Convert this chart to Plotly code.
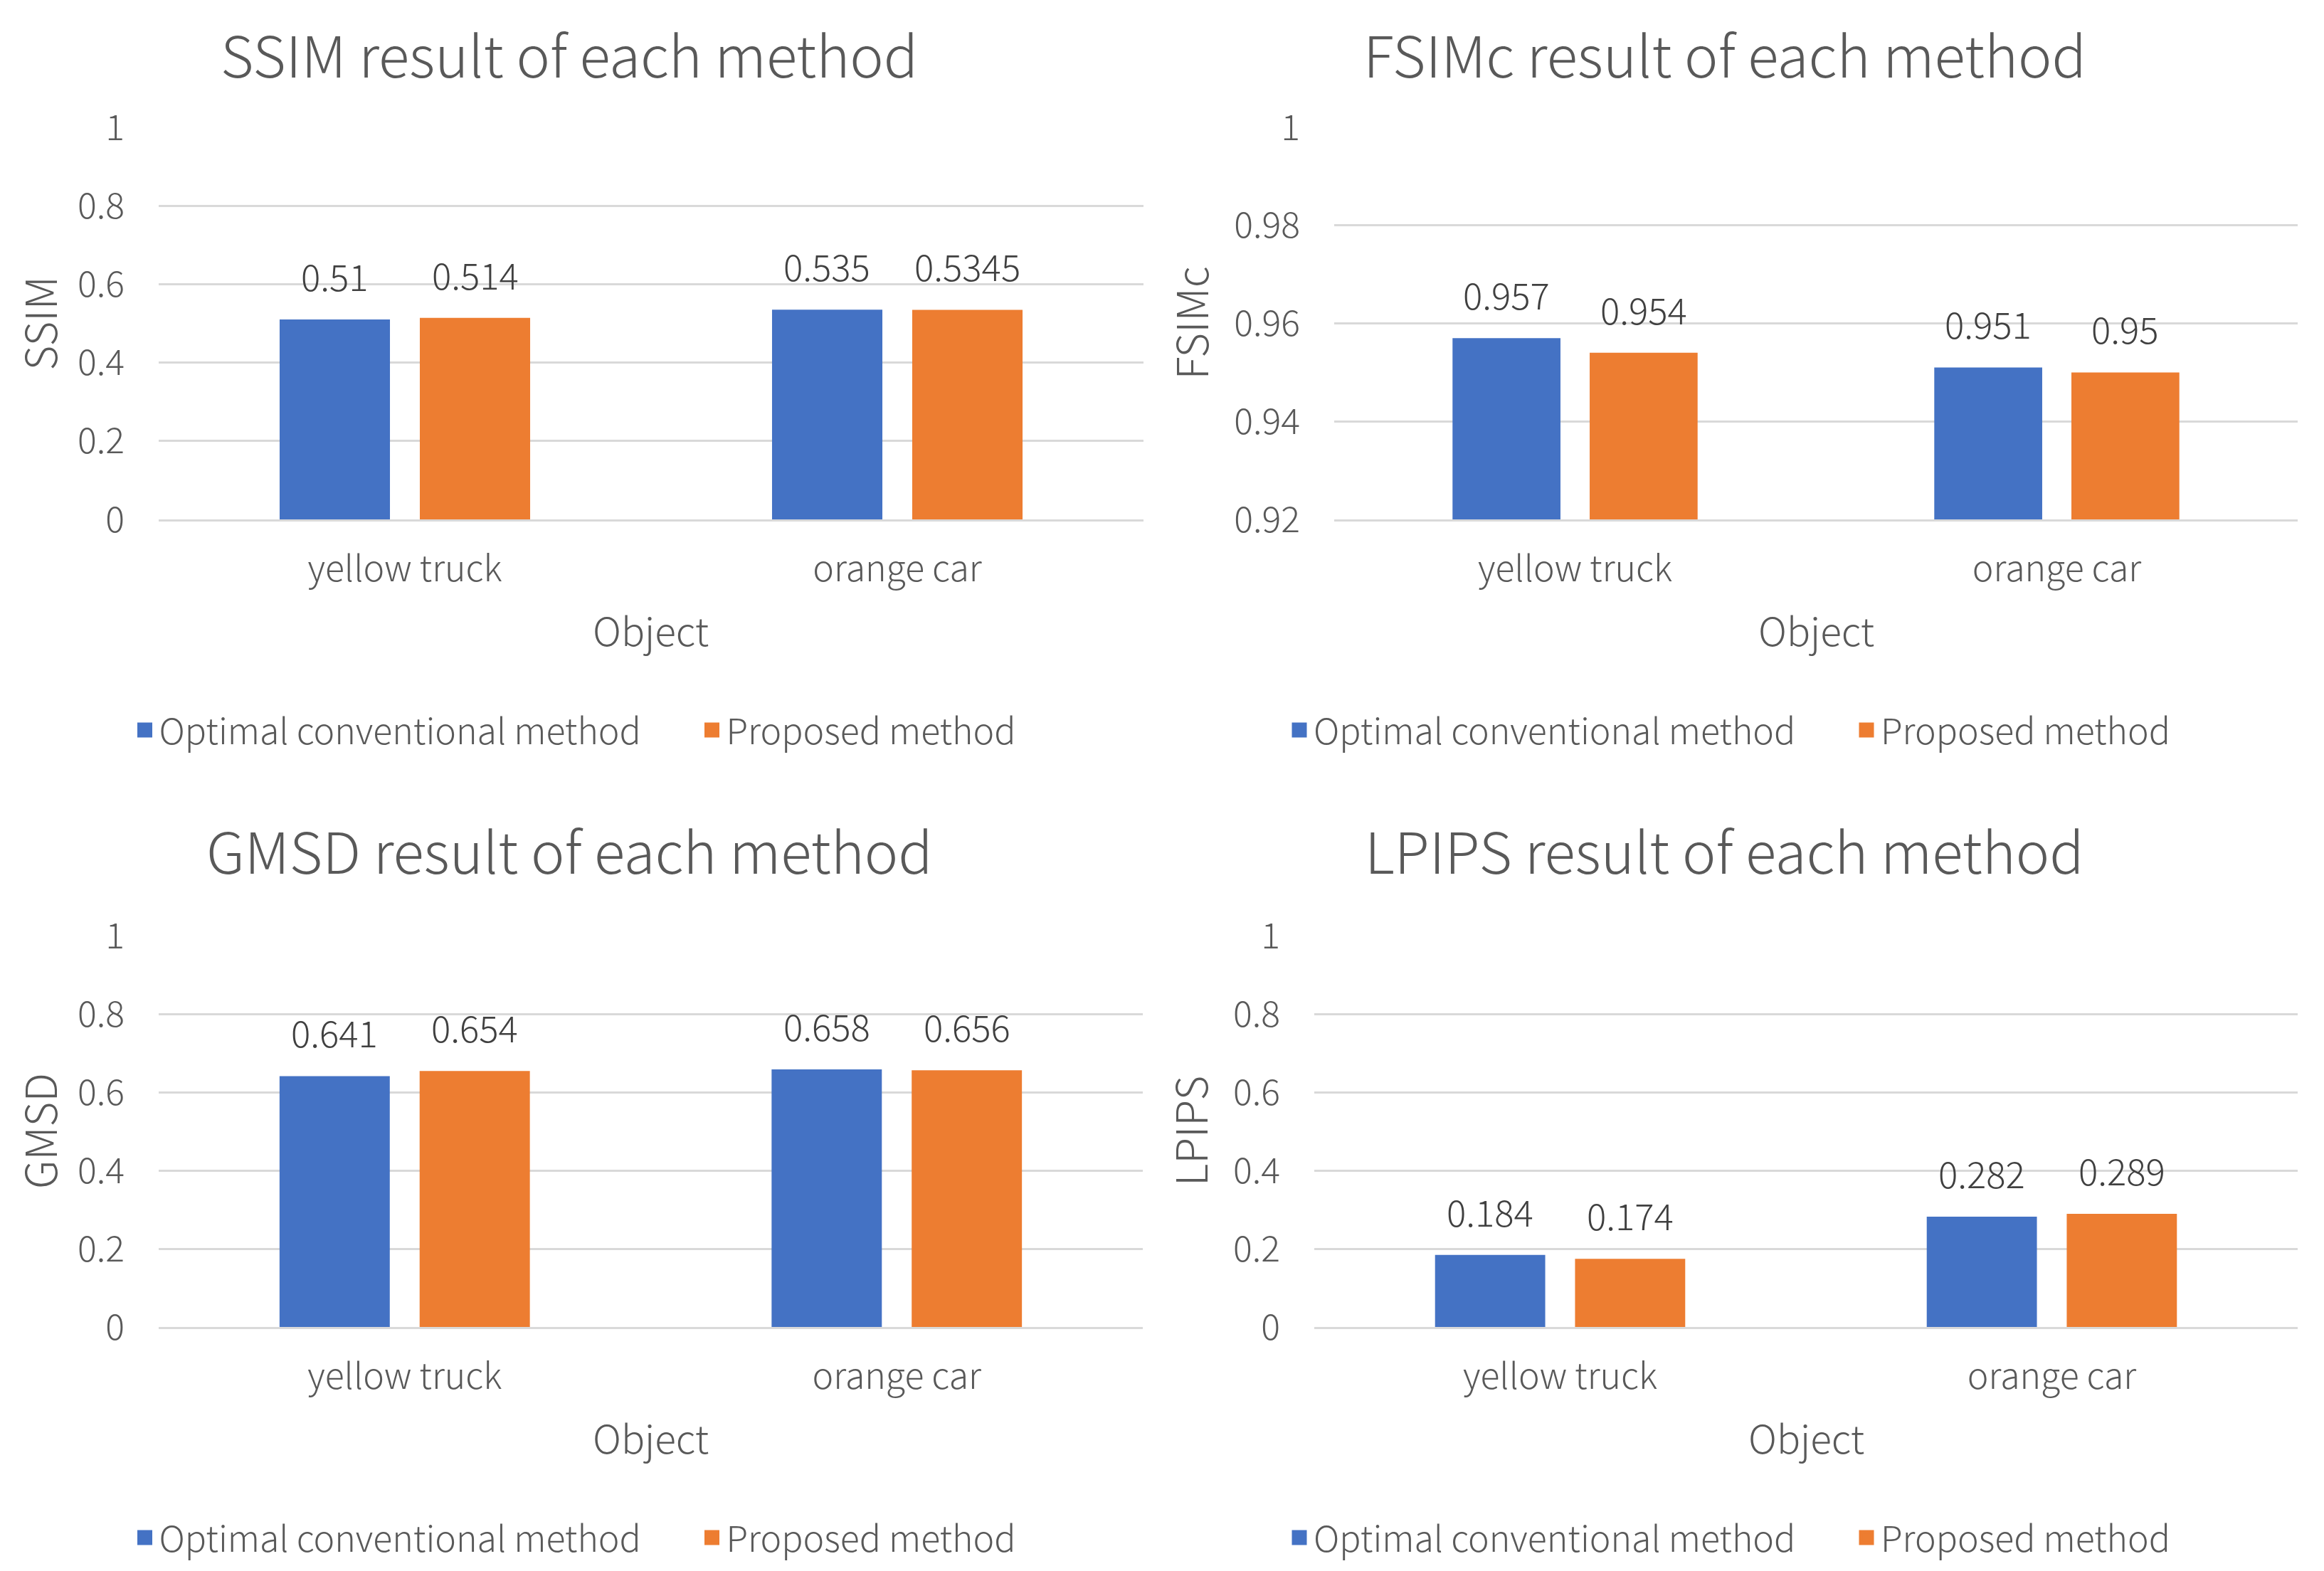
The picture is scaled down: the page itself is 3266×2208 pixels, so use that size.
import plotly.graph_objects as go

categories = ["yellow truck", "orange car"]
series_names = ["Optimal conventional method", "Proposed method"]
colors = ["#4472C4", "#ED7D31"]

ssim_conv = [0.51, 0.535]
ssim_prop = [0.514, 0.5345]
fsim_conv = [0.957, 0.951]
fsim_prop = [0.954, 0.95]
gmsd_conv = [0.641, 0.658]
gmsd_prop = [0.654, 0.656]
lpips_conv = [0.184, 0.282]
lpips_prop = [0.174, 0.289]

titles = ["SSIM result of each method", "FSIMc result of each method",
          "GMSD result of each method", "LPIPS result of each method"]
ytitles = ["SSIM", "FSIMc", "GMSD", "LPIPS"]
xtitle = "Object"
ranges = [[0, 1], [0.92, 1], [0, 1], [0, 1]]
dticks = [0.2, 0.02, 0.2, 0.2]
data = [(ssim_conv, ssim_prop), (fsim_conv, fsim_prop),
        (gmsd_conv, gmsd_prop), (lpips_conv, lpips_prop)]

# page has an 8px body margin; figure sized so it fits the window exactly
OFF = 8
W, H = 3266 - 2 * OFF, 2208 - 2 * OFF
FONT = "Noto Sans CJK JP"
TXT = "#595959"
WEIGHT = 300
BARGAP, GROUPGAP = 0.4306, 0.213


def px(x):
    return (x - OFF) / W


def py(y):
    return 1 - (y - OFF) / H


# layout positions in screen pixels
plot_x = [(223, 1607), (1875, 3229), (223, 1606), (1847, 3229)]
plot_y = [(179, 730), (179, 730), (1315, 1865), (1315, 1865)]
title_xy = [(800, 74), (2424, 74), (800, 1193), (2423, 1193)]
ytitle_xpos = [53, 1671, 53, 1670]
legend_xy = [(183.5, 1026), (1806, 1026), (183.5, 2161), (1806, 2161)]
object_y = [884, 884, 2019, 2019]

fig = go.Figure()
annotations = []
layout = {}

for i in range(4):
    sfx = "" if i == 0 else str(i + 1)
    xa, ya = "x" + sfx, "y" + sfx
    lg = "legend" + sfx
    x0, x1 = plot_x[i]
    y0, y1 = plot_y[i]
    cat_w = (x1 - x0) / len(categories)
    shift = (1 - BARGAP) * cat_w / 4
    for s in range(2):
        vals = data[i][s]
        fig.add_trace(go.Bar(x=categories, y=vals, name=series_names[s],
                             marker=dict(color=colors[s], line=dict(width=0)),
                             xaxis=xa, yaxis=ya, showlegend=False))
        fig.add_trace(go.Scatter(x=[None], y=[None], mode="markers", name=series_names[s],
                                 marker=dict(symbol="square", size=28, color=colors[s],
                                             line=dict(width=5, color=colors[s])),
                                 xaxis=xa, yaxis=ya, legend=lg, showlegend=True))
        for c, v in zip(categories, vals):
            annotations.append(dict(x=c, y=v, xref=xa, yref=ya, text=str(v),
                                    showarrow=False, xshift=(-shift if s == 0 else shift),
                                    yshift=62, yanchor="middle",
                                    font=dict(family=FONT, size=51, color="#404040",
                                              weight=WEIGHT)))
    layout["xaxis" + sfx] = dict(domain=[px(x0), px(x1)], anchor=ya, showgrid=False,
                                 showline=True, linecolor="#D9D9D9", linewidth=3,
                                 ticks="", ticklabelstandoff=24, automargin=False,
                                 tickfont=dict(family=FONT, size=50, color=TXT, weight=WEIGHT))
    layout["yaxis" + sfx] = dict(domain=[py(y1), py(y0)], anchor=xa, range=ranges[i],
                                 dtick=dticks[i], tick0=ranges[i][0],
                                 showgrid=True, gridcolor="#D9D9D9", gridwidth=3,
                                 zeroline=False, showline=False, ticks="",
                                 ticklabelstandoff=47, automargin=False,
                                 tickfont=dict(family=FONT, size=50, color=TXT, weight=WEIGHT))
    layout[lg] = dict(orientation="h", x=px(legend_xy[i][0]), y=py(legend_xy[i][1]),
                      xanchor="left", yanchor="middle", xref="paper", yref="paper",
                      font=dict(family=FONT, size=50, color=TXT, weight=WEIGHT),
                      bgcolor="rgba(0,0,0,0)", itemwidth=30, tracegroupgap=0,
                      entrywidth=752)
    annotations.append(dict(x=px(title_xy[i][0]), y=py(title_xy[i][1]), xref="paper",
                            yref="paper", text=titles[i], showarrow=False,
                            xanchor="center", yanchor="middle",
                            font=dict(family=FONT, size=80, color=TXT, weight=WEIGHT)))
    annotations.append(dict(x=px(ytitle_xpos[i]), y=py((y0 + y1) / 2), xref="paper",
                            yref="paper", text=ytitles[i], showarrow=False, textangle=-90,
                            xanchor="center", yanchor="middle",
                            font=dict(family=FONT, size=60, color=TXT, weight=WEIGHT)))
    annotations.append(dict(x=px((x0 + x1) / 2), y=py(object_y[i]), xref="paper",
                            yref="paper", text=xtitle, showarrow=False,
                            xanchor="center", yanchor="middle",
                            font=dict(family=FONT, size=55, color=TXT, weight=WEIGHT)))

fig.update_layout(**layout)
fig.update_layout(width=W, height=H,
                  margin=dict(l=0, r=0, t=0, b=0, pad=0, autoexpand=False),
                  paper_bgcolor="white", plot_bgcolor="white",
                  barmode="group", bargap=BARGAP, bargroupgap=GROUPGAP,
                  annotations=annotations, font=dict(family=FONT, color=TXT))

fig.write_html("out.html")
